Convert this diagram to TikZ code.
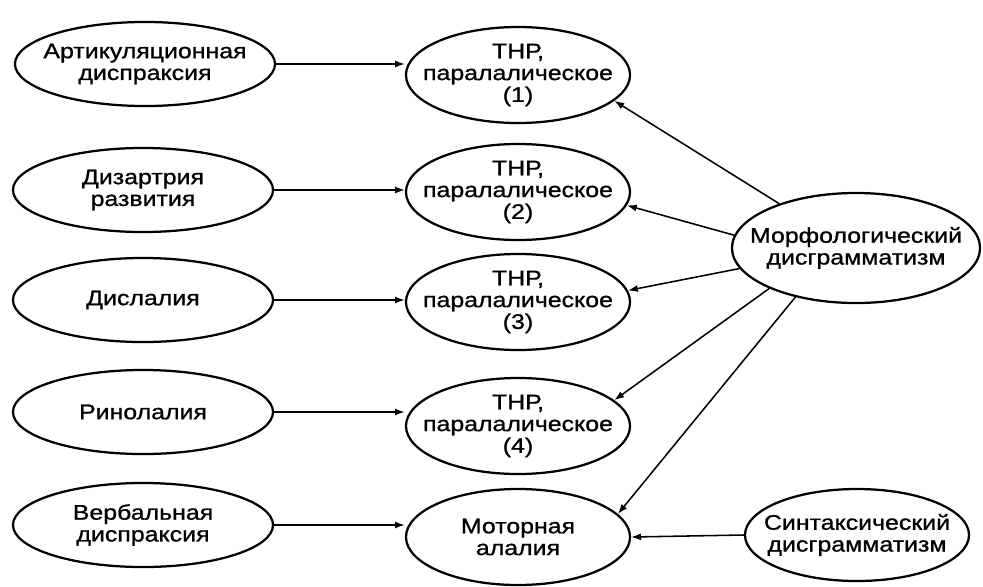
\documentclass[tikz,border=0pt]{standalone}
\usepackage{fontspec}
\setmainfont{Liberation Sans}[FakeStretch=1.18,FakeBold=1]
\usepackage{tikz}
\usetikzlibrary{arrows.meta,positioning,shapes.geometric,calc}

\begin{document}
\begin{tikzpicture}[x=0.025cm,y=-0.025cm,
    font=\fontsize{15}{15.5}\selectfont,
    oval/.style={ellipse,draw,line width=1.6pt,inner xsep=-1cm,inner ysep=-0.3cm,
                 align=center,minimum width=6.5cm,minimum height=2.1cm},
    midoval/.style={oval,minimum width=5.6cm,minimum height=2.4cm},
    link/.style={line width=1.1pt,-{Latex[length=7pt,width=5pt]}}]
  \useasboundingbox (0,0) rectangle (983,586);
  \node[oval] (art) at (145,64) {Артикуляционная\\диспраксия};
  \node[oval] (diz) at (143,190) {Дизартрия\\развития};
  \node[oval] (disl) at (143,300) {Дислалия};
  \node[oval] (rino) at (143,412) {Ринолалия};
  \node[oval] (verb) at (143,525) {Вербальная\\диспраксия};
  \node[midoval] (t1) at (518,75) {ТНР,\\паралалическое\\(1)};
  \node[midoval] (t2) at (518,192) {ТНР,\\паралалическое\\(2)};
  \node[midoval] (t3) at (518,302) {ТНР,\\паралалическое\\(3)};
  \node[midoval] (t4) at (518,426) {ТНР,\\паралалическое\\(4)};
  \node[midoval] (mot) at (518,537) {Моторная\\алалия};
  \node[oval,minimum width=6.2cm,minimum height=2.75cm] (morph) at (856,248)
       {Морфологический\\дисграмматизм};
  \node[oval,minimum width=5.6cm,minimum height=2.3cm] (synt) at (857,535)
       {Синтаксический\\дисграмматизм};
  \draw[link] (art.east) -- (art.east -| t1.west);
  \draw[link] (diz.east) -- (diz.east -| t2.west);
  \draw[link] (disl.east) -- (disl.east -| t3.west);
  \draw[link] (rino.east) -- (rino.east -| t4.west);
  \draw[link] (verb.east) -- (verb.east -| mot.west);
  \draw[link] (morph.150) -- (t1.-15);
  \draw[link] (morph.174) -- (t2.-7);
  \draw[link] (morph.190) -- (t3.6);
  \draw[link] (morph.205) -- (t4.15);
  \draw[link] (morph.219) -- (mot.13);
  \draw[link] (synt.west) -- (mot.east);
\end{tikzpicture}
\end{document}
